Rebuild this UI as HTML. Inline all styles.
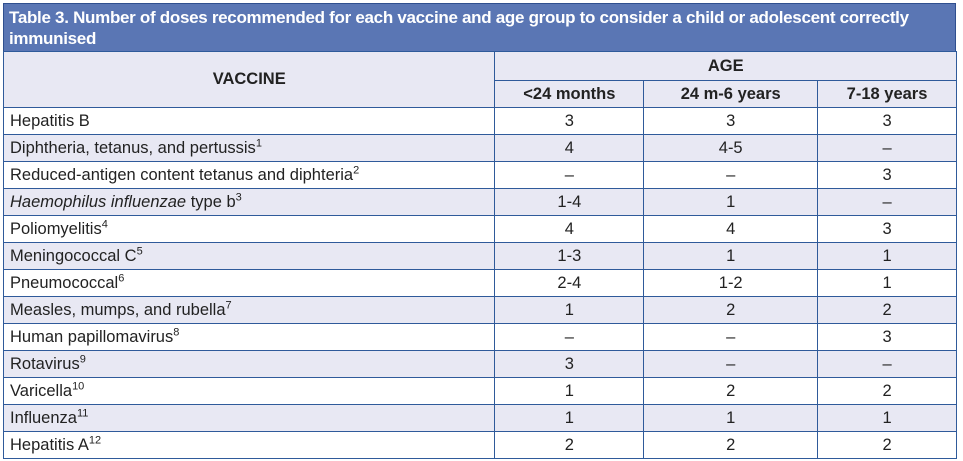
<!DOCTYPE html>
<html><head><style>
body{margin:0;width:963px;height:461px;background:#fff;font-family:"Liberation Sans",sans-serif;position:relative;overflow:hidden}
.t{position:absolute;left:3px;top:3px;width:953px;height:49px;background:#5a76b4;color:#fff;font-weight:bold;font-size:17px;line-height:21px;padding:3px 5px;box-sizing:border-box;border:1px solid #2f4f8f;white-space:nowrap;letter-spacing:-0.3px}
table{position:absolute;left:3px;top:51px;border-collapse:collapse;width:954px;font-size:16.5px;color:#222}
td{border:1px solid #2f5a9a;padding:0 6px;height:27px;box-sizing:border-box}
td.c{text-align:center}
tr.h td{background:#e8e8f3;font-weight:bold;text-align:center}
tr.s td{background:#e8e8f3}
sup{font-size:11px;line-height:0}
</style></head><body>
<div class="t">Table 3. Number of doses recommended for each vaccine and age group to consider a child or adolescent correctly<br>immunised</div>
<table>
<colgroup><col style="width:492px"><col style="width:149px"><col style="width:174px"><col style="width:139px"></colgroup>
<tr class="h"><td rowspan="2" style="font-weight:bold">VACCINE</td><td colspan="3" style="height:29px">AGE</td></tr>
<tr class="h"><td style="height:27px">&lt;24 months</td><td>24 m-6 years</td><td>7-18 years</td></tr>
<tr><td>Hepatitis B</td><td class="c">3</td><td class="c">3</td><td class="c">3</td></tr>
<tr class="s"><td>Diphtheria, tetanus, and pertussis<sup>1</sup></td><td class="c">4</td><td class="c">4-5</td><td class="c">–</td></tr>
<tr><td>Reduced-antigen content tetanus and diphteria<sup>2</sup></td><td class="c">–</td><td class="c">–</td><td class="c">3</td></tr>
<tr class="s"><td><i>Haemophilus influenzae</i> type b<sup>3</sup></td><td class="c">1-4</td><td class="c">1</td><td class="c">–</td></tr>
<tr><td>Poliomyelitis<sup>4</sup></td><td class="c">4</td><td class="c">4</td><td class="c">3</td></tr>
<tr class="s"><td>Meningococcal C<sup>5</sup></td><td class="c">1-3</td><td class="c">1</td><td class="c">1</td></tr>
<tr><td>Pneumococcal<sup>6</sup></td><td class="c">2-4</td><td class="c">1-2</td><td class="c">1</td></tr>
<tr class="s"><td>Measles, mumps, and rubella<sup>7</sup></td><td class="c">1</td><td class="c">2</td><td class="c">2</td></tr>
<tr><td>Human papillomavirus<sup>8</sup></td><td class="c">–</td><td class="c">–</td><td class="c">3</td></tr>
<tr class="s"><td>Rotavirus<sup>9</sup></td><td class="c">3</td><td class="c">–</td><td class="c">–</td></tr>
<tr><td>Varicella<sup>10</sup></td><td class="c">1</td><td class="c">2</td><td class="c">2</td></tr>
<tr class="s"><td>Influenza<sup>11</sup></td><td class="c">1</td><td class="c">1</td><td class="c">1</td></tr>
<tr><td>Hepatitis A<sup>12</sup></td><td class="c">2</td><td class="c">2</td><td class="c">2</td></tr>
</table>
</body></html>
